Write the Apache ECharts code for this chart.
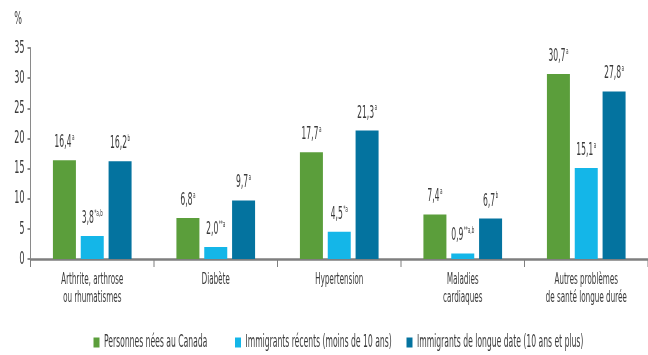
<!DOCTYPE html>
<html>
<head>
<meta charset="utf-8">
<script src="https://cdn.jsdelivr.net/npm/echarts@6/dist/echarts.min.js"></script>
<style>
html,body{margin:0;padding:0;overflow:hidden;background:#fff;}
#wrap{width:648px;height:355px;overflow:hidden;position:relative;}
#chart{width:1296px;height:355px;transform:scaleX(0.5);transform-origin:0 0;}
</style>
</head>
<body>
<div id="wrap"><div id="chart"></div></div>
<script>
const categories = ['Arthrite, arthrose\nou rhumatismes', 'Diabète', 'Hypertension', 'Maladies\ncardiaques', 'Autres problèmes\nde santé longue durée'];
const seriesNames = ['Personnes nées au Canada', 'Immigrants récents (moins de 10 ans)', 'Immigrants de longue date (10 ans et plus)'];
const canadaValues = [16.4, 6.8, 17.7, 7.4, 30.7];
const recentValues = [3.8, 2.0, 4.5, 0.9, 15.1];
const longValues = [16.2, 9.7, 21.3, 6.7, 27.8];
const canadaNotes = ['a', 'a', 'a', 'a', 'a'];
const recentNotes = ['*a,b', '**a', '*a', '**a,b', 'a'];
const longNotes = ['b', 'a', 'a', 'b', 'a'];
const yTicks = [0, 5, 10, 15, 20, 25, 30, 35];

const colors = ['#5b9e3b', '#14b6e8', '#04739f'];
const FONT = '"Liberation Sans Narrow", "Arial Narrow", "DejaVu Sans Condensed", sans-serif';
const TXT = '#3a3a3a';

function mkSeries(name, values, notes, color) {
  return {
    name: name,
    type: 'bar',
    barWidth: 46,
    barGap: '21%',
    itemStyle: { color: color },
    data: values.map((v, i) => ({ value: v, note: notes[i] })),
    label: {
      show: true,
      position: 'top',
      distance: 8,
      formatter: p => '{v|' + p.value.toFixed(1).replace('.', ',') + '}{s|' + p.data.note + '}',
      rich: {
        v: { fontFamily: FONT, fontSize: 17, color: TXT, lineHeight: 19 },
        s: { fontFamily: FONT, fontSize: 9, color: TXT, verticalAlign: 'top', lineHeight: 19, padding: [0, 0, 8, 1] }
      }
    }
  };
}

const chart = echarts.init(document.getElementById('chart'), null, { renderer: 'canvas' });
const legendBase = {
  top: 329,
  itemWidth: 12,
  itemHeight: 10,
  icon: 'rect',
  itemGap: 6,
  textStyle: { fontFamily: FONT, fontSize: 17, color: TXT, padding: [0, 0, 0, 4] }
};
chart.setOption({
  animation: false,
  grid: { left: 61, top: 48, width: 1250, height: 211, containLabel: false },
  legend: [
    Object.assign({}, legendBase, { left: 182, data: [seriesNames[0]] }),
    Object.assign({}, legendBase, { left: 465, data: [seriesNames[1]] }),
    Object.assign({}, legendBase, { left: 808, data: [seriesNames[2]] })
  ],
  xAxis: {
    type: 'category',
    data: categories,
    axisLine: { lineStyle: { color: '#7f7f7f', width: 2.5 } },
    axisTick: { show: true, length: 8, lineStyle: { color: '#7f7f7f', width: 2 } },
    axisLabel: { fontFamily: FONT, fontSize: 16, color: TXT, lineHeight: 18, margin: 12, interval: 0 }
  },
  yAxis: {
    type: 'value',
    min: 0,
    max: yTicks[yTicks.length - 1],
    interval: yTicks[1] - yTicks[0],
    name: '%',
    nameLocation: 'end',
    nameGap: 20,
    nameTextStyle: { fontFamily: FONT, fontSize: 18, color: TXT, align: 'right', padding: [0, 17, 0, 0] },
    axisLine: { show: true, lineStyle: { color: '#8a8a8a', width: 2 } },
    axisTick: { show: true, length: 6, lineStyle: { color: '#8a8a8a', width: 2 } },
    splitLine: { show: false },
    axisLabel: { fontFamily: FONT, fontSize: 18, color: TXT, margin: 12, formatter: v => String(v) }
  },
  series: [
    mkSeries(seriesNames[0], canadaValues, canadaNotes, colors[0]),
    mkSeries(seriesNames[1], recentValues, recentNotes, colors[1]),
    mkSeries(seriesNames[2], longValues, longNotes, colors[2])
  ]
});
</script>
</body>
</html>
